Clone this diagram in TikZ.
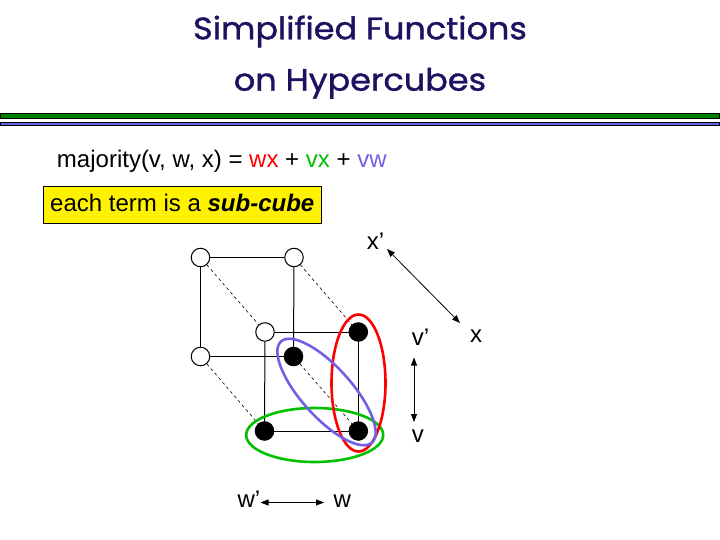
\documentclass[tikz,border=0pt]{standalone}
\usepackage{fontspec}
\setmainfont{Liberation Sans}
\newfontfamily\titlefont[FakeBold=1.2, FakeStretch=1.08]{Poppins}
\usetikzlibrary{arrows.meta}

\definecolor{titleblue}{RGB}{32,16,96}
\definecolor{bargreen}{RGB}{0,128,0}
\definecolor{barblue}{RGB}{104,100,228}
\definecolor{ringred}{RGB}{255,0,0}
\definecolor{ringgreen}{RGB}{0,192,0}
\definecolor{ringblue}{RGB}{112,96,230}

\tikzstyle{vtx}   = [circle, draw=black, line width=1bp, minimum size=18.5bp, inner sep=0pt]
\tikzstyle{von}   = [vtx, fill=black]
\tikzstyle{voff}  = [vtx, fill=white]
\tikzstyle{edge}  = [line width=1bp]
\tikzstyle{depth} = [line width=0.6bp, dash pattern=on 3bp off 3bp]
\tikzstyle{ring}  = [line width=2.6bp]
\tikzstyle{lbl}   = [anchor=base west, inner sep=0pt, font=\slidefont]
\tikzstyle{dir}   = [{Triangle[length=8bp,width=6bp]}-{Triangle[length=8bp,width=6bp]}, line width=0.8bp]
\def\slidefont{\fontsize{24bp}{28bp}\selectfont}
\def\rulebar#1#2#3{
  \draw[fill=#3, line width=1bp] (0.5,#1) rectangle (719.5,#2);
}

\begin{document}
\begin{tikzpicture}[x=1bp, y=-1bp]
  \useasboundingbox (0,0) rectangle (720,540);
  % title and rules
  \node[anchor=base, inner sep=0pt, text=titleblue, font=\titlefont\fontsize{31bp}{36bp}\selectfont]
    (title1) at (360,39.3) {Simplified Functions};
  \node[anchor=base, inner sep=0pt, text=titleblue, font=\titlefont\fontsize{31bp}{36bp}\selectfont]
    (title2) at (360,90.7) {on Hypercubes};
  \rulebar{113.8}{118.2}{bargreen}
  \rulebar{122.5}{125.2}{barblue}
  % formula
  \node[lbl] (maj) at (56.8,167.3)
    {majority(v, w, x) = \textcolor{ringred}{wx} + \textcolor{ringgreen}{vx} + \textcolor{ringblue}{vw}};
  \node[lbl, draw=black, line width=1bp, fill=yellow, inner xsep=7bp, inner ysep=7.5bp,
        text height=17.3bp, text depth=4bp] (note) at (42.7,211.7)
    {each term is a \textbf{\textit{sub-cube}}};
  % cube vertices, named by v w x
  \foreach \n/\x/\y/\s in {000/200.5/257.5/voff, 010/294/257.5/voff,
                           100/200.5/356.5/voff, 110/293.5/356.5/von,
                           001/265/332/voff, 011/358.3/332/von,
                           101/264.5/431/von, 111/358.3/431/von}
    \node[\s] (n\n) at (\x,\y) {};
  \foreach \a/\b in {000/010, 000/100, 010/110, 100/110,
                     001/011, 001/101, 011/111, 101/111}
    \draw[edge] (n\a) -- (n\b);
  \foreach \a/\b in {000/001, 010/011, 100/101, 110/111}
    \draw[depth] (n\a) -- (n\b);
  % sub-cubes
  \draw[ring, ringgreen] (314.7,435) ellipse [x radius=68.5bp, y radius=27bp];
  \draw[ring, ringred] (358.5,383) ellipse [x radius=27bp, y radius=68.5bp];
  \draw[ring, ringblue, rotate around={-48:(326.5,392)}] (326.5,392) ellipse [x radius=68bp, y radius=25bp];
  % directions
  \node[lbl] (xneg) at (366.7,249.3) {x’};
  \node[lbl] (xpos) at (470,342.7) {x};
  \node[lbl] (vneg) at (411.7,345) {v’};
  \node[lbl] (vpos) at (411.7,442.7) {v};
  \node[lbl] (wneg) at (237.3,507.3) {w’};
  \node[lbl] (wpos) at (333.3,507.3) {w};
  \coordinate (xa) at (387,249);
  \coordinate (xb) at (460,323);
  \coordinate (va) at (414,357.5);
  \coordinate (vb) at (414,422);
  \coordinate (wa) at (260.5,502.5);
  \coordinate (wb) at (324,502.5);
  \draw[dir] (xa) -- (xb);
  \draw[dir] (va) -- (vb);
  \draw[dir] (wa) -- (wb);
\end{tikzpicture}
\end{document}
